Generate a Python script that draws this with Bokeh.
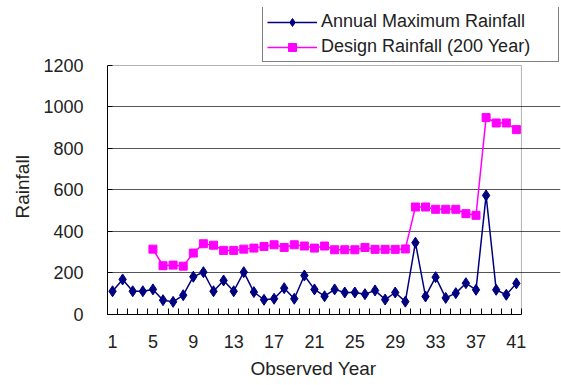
from bokeh.plotting import figure
from bokeh.models import FixedTicker, Legend, LegendItem, Range1d, BoxAnnotation, Title
from bokeh.embed import file_html
from bokeh.resources import INLINE

# Observed years (index) and rainfall series
years = list(range(1, 42))
annual_max = [112, 169, 112, 112, 121, 69, 61, 93, 182, 204,
              112, 164, 112, 204, 108, 71, 76, 127, 76, 188,
              121, 88, 121, 106, 106, 98, 116, 72, 106, 62,
              346, 87, 180, 80, 103, 151, 119, 574, 119, 95,
              150]
nan = float("nan")
design_200yr = [nan, nan, nan, nan, 315, 235, 238, 233, 296, 341,
                334, 309, 309, 315, 320, 328, 336, 323, 336, 330,
                320, 330, 312, 312, 312, 323, 314, 314, 314, 316,
                518, 518, 507, 507, 507, 486, 478, 949, 923, 923,
                891]
x_tick_labels = [1, 5, 9, 13, 17, 21, 25, 29, 33, 37, 41]
y_ticks = [0, 200, 400, 600, 800, 1000, 1200]

X_MIN, X_MAX = 0.5, 41.5
Y_MIN, Y_MAX = 0, 1200

FONT = "Liberation Sans"
BLUE = "#000080"
PINK = "#FF00FF"
TEXT = "#222222"

# The canvas frame is larger than the plotting box so that the legend,
# which sits above and to the right of the box, is not clipped.
p = figure(width=561, height=385, output_backend="svg", toolbar_location=None,
           x_range=Range1d(X_MIN, 45.37), y_range=Range1d(Y_MIN, 1479.5),
           min_border_left=107, min_border_right=1,
           min_border_top=7, min_border_bottom=71)
p.background_fill_color = "white"
p.border_fill_color = "white"
p.outline_line_color = None

# plotting box border
p.add_layout(BoxAnnotation(left=X_MIN, right=X_MAX, bottom=Y_MIN, top=Y_MAX,
                           fill_alpha=0, line_color="black", line_width=1,
                           level="underlay"))

p.xgrid.visible = False
p.ygrid.ticker = FixedTicker(ticks=y_ticks[1:-1])
p.ygrid.bounds = (X_MIN, X_MAX)
p.ygrid.grid_line_color = "#555555"
p.ygrid.grid_line_width = 1

# x axis: labels every 4 years, small ticks between every year
xa = p.xaxis[0]
xa.bounds = (X_MIN, X_MAX)
xa.ticker = FixedTicker(ticks=x_tick_labels,
                        minor_ticks=[y + 0.5 for y in range(0, 42)])
xa.axis_line_color = "black"
xa.major_tick_in = 0
xa.major_tick_out = 0
xa.minor_tick_in = 6
xa.minor_tick_out = 0
xa.minor_tick_line_color = "black"
xa.major_label_standoff = 20
xa.major_label_text_font = FONT
xa.major_label_text_font_size = "18px"
xa.major_label_text_color = TEXT

ya = p.yaxis[0]
ya.bounds = (Y_MIN, Y_MAX)
ya.ticker = FixedTicker(ticks=y_ticks)
ya.axis_line_color = "black"
ya.major_tick_in = 5
ya.major_tick_out = 0
ya.minor_tick_in = 0
ya.minor_tick_out = 0
ya.major_label_standoff = 24
ya.major_label_text_font = FONT
ya.major_label_text_font_size = "18px"
ya.major_label_text_color = TEXT

# axis titles, positioned along the plotting box rather than the whole frame
x_title = Title(text="Observed Year", align="left", offset=143, standoff=10,
                text_font=FONT, text_font_size="19px", text_font_style="normal",
                text_color=TEXT)
p.add_layout(x_title, "below")
y_title = Title(text="Rainfall", align="left", offset=96, standoff=16,
                text_font=FONT, text_font_size="19px", text_font_style="normal",
                text_color=TEXT)
p.add_layout(y_title, "left")

# series
l1 = p.line(years, annual_max, line_color=BLUE, line_width=1.5)
m1 = p.scatter(years, annual_max, marker="diamond", size=11,
               fill_color=BLUE, line_color=BLUE)
l2 = p.line(years, design_200yr, line_color=PINK, line_width=1.5)
m2 = p.scatter(years, design_200yr, marker="square", size=8,
               fill_color=PINK, line_color=PINK)

legend = Legend(items=[
    LegendItem(label="Annual Maximum Rainfall", renderers=[l1, m1]),
    LegendItem(label="Design Rainfall (200 Year)", renderers=[l2, m2]),
], location=(155, 252))
legend.label_text_font = FONT
legend.label_text_font_size = "18px"
legend.label_text_color = TEXT
legend.border_line_color = "black"
legend.border_line_width = 1
legend.background_fill_color = "white"
legend.background_fill_alpha = 1
legend.padding = 4
legend.margin = 0
legend.spacing = 4
legend.glyph_width = 50
legend.glyph_height = 20
legend.label_height = 20
legend.label_width = 233
legend.label_standoff = 4
p.add_layout(legend, "center")

open("out.html", "w").write(file_html(p, INLINE))
